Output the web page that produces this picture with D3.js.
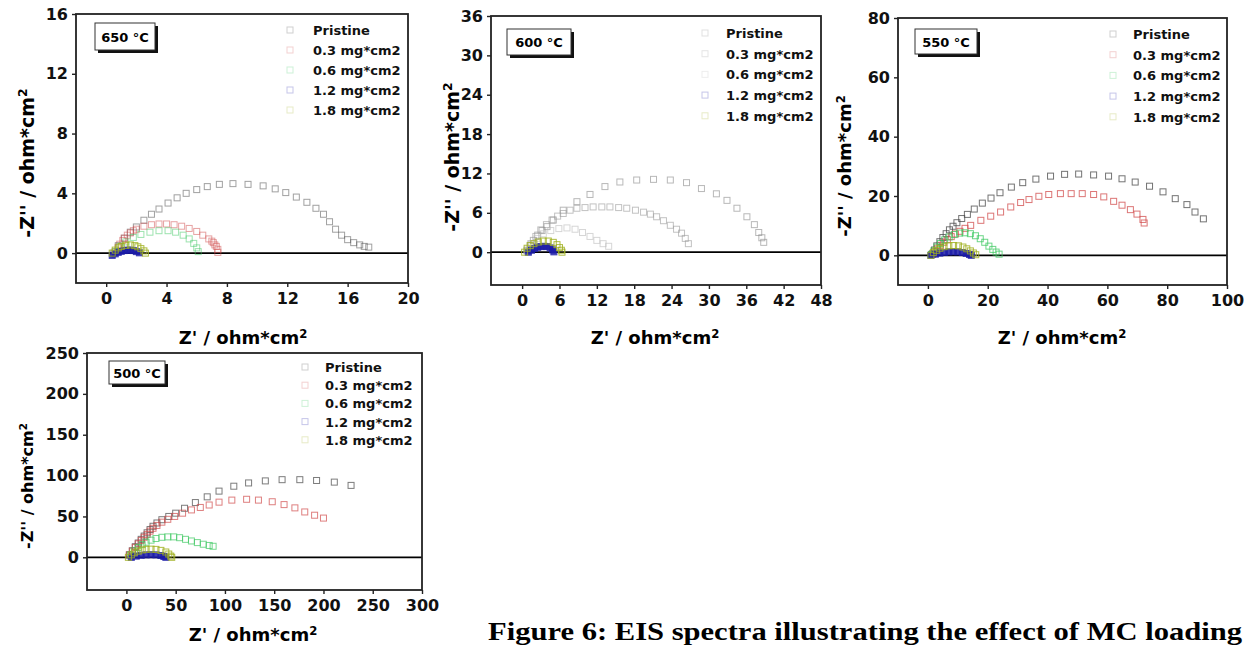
<!DOCTYPE html>
<html>
<head>
<meta charset="utf-8">
<script src="https://cdn.jsdelivr.net/npm/d3@7"></script>
<style>
  body { margin: 0; background: #fff; }
  text { font-family: "DejaVu Sans", Arial, sans-serif; font-weight: bold; }
</style>
</head>
<body>
<svg id="chart" width="1249" height="647"></svg>
<script>
// series names (legend)
var seriesNames = ["Pristine", "0.3 mg*cm2", "0.6 mg*cm2", "1.2 mg*cm2", "1.8 mg*cm2"]

// 650 C  [Z', -Z'']
var p650_pristine = [[0.5,0.0],[0.8,0.5],[1.2,1.0],[1.6,1.4],[2.0,1.75],[2.5,2.2],[3.0,2.6],[3.5,2.95],[4.1,3.35],[4.7,3.7],[5.3,4.0],[6.0,4.25],[6.7,4.45],[7.5,4.6],[8.4,4.65],[9.4,4.6],[10.4,4.5],[11.2,4.3],[11.9,4.05],[12.6,3.75],[13.3,3.4],[13.9,3.0],[14.4,2.6],[14.8,2.1],[15.2,1.6],[15.6,1.2],[16.0,0.9],[16.4,0.7],[16.8,0.55],[17.1,0.45],[17.4,0.4]]
var p650_03 = [[0.6,0.1],[0.8,0.4],[0.9,0.6],[1.1,0.85],[1.2,1.0],[1.4,1.2],[1.6,1.35],[1.8,1.5],[2.0,1.6],[2.5,1.8],[3.0,1.9],[3.5,1.95],[4.0,1.95],[4.5,1.9],[5.0,1.8],[5.5,1.65],[6.0,1.45],[6.4,1.2],[6.8,0.95],[7.0,0.8],[7.1,0.7],[7.2,0.55],[7.3,0.45],[7.4,0.25],[7.4,0.05]]
var p650_06 = [[0.6,0.1],[0.9,0.45],[1.3,0.75],[1.8,1.05],[2.3,1.25],[2.9,1.4],[3.5,1.5],[4.1,1.5],[4.6,1.4],[5.1,1.2],[5.5,0.95],[5.8,0.65],[6.0,0.35],[6.1,0.1]]
var p650_12 = [[0.4,-0.15],[0.6,-0.05],[0.8,0.05],[1.0,0.12],[1.2,0.17],[1.4,0.2],[1.6,0.2],[1.8,0.17],[2.0,0.1],[2.2,0.02]]
var p650_18 = [[0.4,0.0],[0.6,0.2],[0.8,0.35],[1.0,0.45],[1.3,0.52],[1.6,0.55],[1.9,0.5],[2.1,0.42],[2.3,0.3],[2.5,0.15],[2.6,0.0]]

// 600 C
var p600_pristine = [[0.8,0.2],[1.3,1.0],[1.8,1.8],[2.5,2.6],[3.2,3.3],[4.0,3.9],[5.0,4.9],[6.6,6.4],[8.8,7.7],[10.9,8.8],[13.3,10.0],[15.7,10.7],[18.4,11.0],[21.1,11.1],[23.8,11.0],[26.4,10.6],[28.8,9.7],[31.2,8.9],[32.9,7.9],[34.5,6.7],[36.1,5.4],[37.3,4.2],[38.0,3.0],[38.5,2.2],[38.8,1.5]]
var p600_03 = [[0.8,0.3],[1.4,1.3],[2.2,2.4],[3.0,3.4],[3.9,4.2],[4.8,4.9],[5.7,5.5],[6.6,5.9],[7.7,6.4],[8.8,6.7],[10.1,6.8],[11.4,6.9],[12.8,6.9],[14.1,6.9],[15.5,6.8],[16.8,6.7],[18.2,6.4],[19.5,6.1],[20.6,5.8],[21.6,5.4],[22.7,4.8],[23.8,4.1],[24.8,3.5],[25.6,2.9],[26.2,2.1],[26.7,1.3]]
var p600_06 = [[0.8,0.3],[1.5,1.2],[2.4,2.1],[3.4,2.8],[4.6,3.3],[5.9,3.6],[7.2,3.7],[8.5,3.5],[9.7,3.0],[10.9,2.4],[12.0,1.8],[13.0,1.3],[13.9,0.9]]
var p600_12 = [[1.0,0.0],[1.5,0.3],[2.0,0.55],[2.5,0.75],[3.0,0.85],[3.5,0.9],[4.0,0.85],[4.5,0.65],[4.9,0.35],[5.1,0.05]]
var p600_18 = [[0.4,0.0],[0.8,0.6],[1.3,1.0],[1.9,1.3],[2.6,1.55],[3.4,1.7],[4.2,1.7],[5.0,1.5],[5.6,1.15],[6.0,0.7],[6.3,0.3],[6.4,0.0]]

// 550 C
var p550_pristine = [[1.5,0.5],[2.2,1.8],[3.0,3.2],[4.0,4.6],[5.0,6.0],[6.1,7.3],[7.2,8.6],[8.4,9.8],[9.7,11.0],[11.3,12.4],[13.2,13.8],[15.5,15.6],[18.2,17.6],[21.1,19.3],[24.1,21.1],[27.9,23.0],[31.7,24.5],[36.1,25.7],[41.0,26.7],[45.7,27.3],[50.4,27.4],[55.4,27.1],[60.4,26.7],[64.9,25.8],[69.3,24.7],[74.1,23.3],[78.6,21.4],[82.7,19.1],[86.6,17.1],[89.3,14.6],[92.1,12.3]]
var p550_03 = [[1.5,0.3],[2.3,1.3],[3.2,2.4],[4.2,3.4],[5.3,4.4],[6.5,5.3],[7.8,6.3],[9.2,7.2],[10.7,8.1],[12.4,9.1],[14.3,10.1],[17.7,11.8],[21.0,13.2],[24.3,14.6],[27.7,16.3],[31.0,17.8],[33.8,18.8],[37.1,19.9],[40.4,20.5],[44.3,20.8],[47.9,20.8],[51.6,20.8],[55.4,20.5],[58.8,19.7],[62.1,18.2],[64.9,16.9],[67.7,15.4],[69.9,13.9],[71.9,12.1],[72.3,10.9]]
var p550_06 = [[1.2,0.3],[2.0,1.5],[3.0,2.8],[4.2,4.0],[5.6,5.2],[7.1,6.2],[8.8,7.0],[10.6,7.5],[12.4,7.6],[14.2,7.3],[15.9,6.6],[17.5,5.6],[19.0,4.4],[20.4,3.1],[21.7,2.0],[22.8,1.1],[23.8,0.4]]
var p550_12 = [[1.0,0.0],[2.5,0.4],[4.0,0.75],[5.5,1.0],[7.0,1.15],[8.5,1.2],[10.0,1.15],[11.5,0.95],[12.8,0.65],[13.9,0.3],[14.5,0.0]]
var p550_18 = [[1.0,0.0],[1.8,0.9],[2.8,1.7],[4.0,2.4],[5.4,2.9],[7.0,3.2],[8.6,3.3],[10.2,3.2],[11.7,2.8],[13.0,2.2],[14.2,1.5],[15.2,0.8],[16.0,0.2]]

// 500 C
var p500_pristine = [[3,3],[6,8],[9,13],[12,17.5],[15,22],[18,26],[21,30],[24,34],[27,38],[31,42],[36,46],[43,50],[50,54],[59,60],[70,67],[82,74],[94,81],[109,87],[124,91],[141,93.5],[158,95],[176,95],[193,94],[211,92],[228,88]]
var p500_03 = [[3,3],[6,7.5],[9,12],[12,16.5],[15,20.5],[18,24.5],[21,28],[24,32],[27,35.5],[31,39],[36,43],[42,46.5],[49,50],[57,54],[66,58],[75,61],[84,64],[94,67.5],[107,70],[122,71],[134,70],[148,68],[160,64.5],[171,60.5],[181,55.5],[191,51.5],[200,48]]
var p500_06 = [[4,3],[8,8],[12,12],[16,15.5],[20,18.5],[25,21],[30,23],[36,24.5],[42,25],[48,25],[54,24],[60,22],[66,20],[72,18],[78,16],[84,14.5],[88,13.5]]
var p500_12 = [[5,0],[10,1.5],[15,2.5],[20,3],[25,3.2],[30,3],[35,2.2],[38,1],[40,0]]
var p500_18 = [[2,0],[5,3],[8,5.5],[12,7.5],[16,9],[20,9.8],[25,10],[30,9.7],[35,8.5],[40,6.5],[43,4],[45,1.5],[46,0]]

// tick labels
var xTicks650 = [0,4,8,12,16,20], yTicks650 = [0,4,8,12,16]
var xTicks600 = [0,6,12,18,24,30,36,42,48], yTicks600 = [0,6,12,18,24,30,36]
var xTicks550 = [0,20,40,60,80,100], yTicks550 = [0,20,40,60,80]
var xTicks500 = [0,50,100,150,200,250,300], yTicks500 = [0,50,100,150,200,250]

var colors = ["#444", "#d04848", "#3cc860", "#1c1ca8", "#a0b020"]
var colors600 = ["#888", "#999", "#bbb", "#1c1ca8", "#a0b020"]

var panels = [
  {temp: "650 °C", series: [p650_pristine, p650_03, p650_06, p650_12, p650_18], xd: [-2,20], yd: [-2,16],
   xt: xTicks650, yt: yTicks650, l: 76, r: 408, t: 14, b: 283, col: colors, op: 0.5,
   box: [95, 23, 60, 27], leg: [290, 313, 30, 20], ylab: [27, 163, 19], xlab: [243, 344]},
  {temp: "600 °C", series: [p600_pristine, p600_03, p600_06, p600_12, p600_18], xd: [-5,48], yd: [-5,36],
   xt: xTicks600, yt: yTicks600, l: 491, r: 821, t: 16, b: 285, col: colors600, op: 0.6,
   box: [507, 29, 64, 26], leg: [705, 726, 33, 20.7], ylab: [452, 157, 19], xlab: [655, 344]},
  {temp: "550 °C", series: [p550_pristine, p550_03, p550_06, p550_12, p550_18], xd: [-10,100], yd: [-10,80],
   xt: xTicks550, yt: yTicks550, l: 898, r: 1227, t: 18, b: 285, col: colors, op: 0.75,
   box: [915, 29, 62, 25], leg: [1113, 1133, 34, 20.7], ylab: [845, 166, 18], xlab: [1062, 344]},
  {temp: "500 °C", series: [p500_pristine, p500_03, p500_06, p500_12, p500_18], xd: [-40,300], yd: [-40,250],
   xt: xTicks500, yt: yTicks500, l: 87, r: 422, t: 353, b: 590, col: colors, op: 0.7,
   box: [109, 361, 56, 23], leg: [305, 325, 367, 18.2], ylab: [27, 486, 16], xlab: [253, 641]}
]

var svg = d3.select("#chart")

panels.forEach(function(p){
  var x = d3.scaleLinear().domain(p.xd).range([p.l, p.r])
  var y = d3.scaleLinear().domain(p.yd).range([p.b, p.t])
  var g = svg.append("g")

  // zero line
  g.append("line")
    .attr("x1", p.l).attr("x2", p.r)
    .attr("y1", y(0)).attr("y2", y(0))
    .attr("stroke", "#000").attr("stroke-width", 1.8)

  // markers
  p.series.forEach(function(s, i){
    var c = p.col[i]
    g.append("g").selectAll("rect")
      .data(s)
      .enter().append("rect")
      .attr("x", d => x(d[0]) - 3)
      .attr("y", d => y(d[1]) - 3)
      .attr("width", 6)
      .attr("height", 6)
      .attr("fill", i == 3 ? c : "none")
      .attr("stroke", c)
      .attr("stroke-width", 1)
      .attr("opacity", i >= 3 ? 0.85 : p.op)
  })

  // frame
  g.append("rect")
    .attr("x", p.l).attr("y", p.t)
    .attr("width", p.r - p.l).attr("height", p.b - p.t)
    .attr("fill", "none").attr("stroke", "#222").attr("stroke-width", 1.8)

  var xAxis = g.append("g")
    .attr("transform", `translate(0,${p.b})`)
    .call(d3.axisBottom(x).tickValues(p.xt).tickSize(4).tickSizeOuter(0).tickPadding(6))
  var yAxis = g.append("g")
    .attr("transform", `translate(${p.l},0)`)
    .call(d3.axisLeft(y).tickValues(p.yt).tickSize(4).tickSizeOuter(0).tickPadding(4))
  ;[xAxis, yAxis].forEach(function(a){
    a.select(".domain").remove()
    a.selectAll("line").attr("stroke", "#222").attr("stroke-width", 1.4)
    a.selectAll("text")
      .attr("fill", "#111")
      .style("font-family", "'DejaVu Sans', Arial, sans-serif")
      .style("font-size", "16px")
      .style("font-weight", "bold")
  })

  // temperature label box with shadow
  g.append("rect")
    .attr("x", p.box[0] + 3).attr("y", p.box[1] + 3)
    .attr("width", p.box[2]).attr("height", p.box[3])
    .attr("fill", "#111")
  g.append("rect")
    .attr("x", p.box[0]).attr("y", p.box[1])
    .attr("width", p.box[2]).attr("height", p.box[3])
    .attr("fill", "#fff").attr("stroke", "#333").attr("stroke-width", 1)
  g.append("text")
    .attr("x", p.box[0] + p.box[2] / 2).attr("y", p.box[1] + p.box[3] / 2 + 5)
    .attr("text-anchor", "middle")
    .style("font-size", "13px")
    .text(p.temp)

  // legend
  seriesNames.forEach(function(n, i){
    var ly = p.leg[2] + i * p.leg[3]
    g.append("rect")
      .attr("x", p.leg[0] - 3).attr("y", ly - 3)
      .attr("width", 6).attr("height", 6)
      .attr("fill", "none").attr("stroke", p.col[i])
      .attr("opacity", 0.25)
    g.append("text")
      .attr("x", p.leg[1]).attr("y", ly + 5)
      .style("font-size", "13px")
      .attr("fill", "#111")
      .text(n)
  })

  // axis labels
  var yl = g.append("text")
    .attr("transform", `translate(${p.ylab[0]},${p.ylab[1]}) rotate(-90)`)
    .attr("text-anchor", "middle")
    .attr("dy", "0.35em")
    .style("font-size", p.ylab[2] + "px")
  yl.append("tspan").text("-Z'' / ohm*cm")
  yl.append("tspan").attr("dy", "-0.5em").style("font-size", "0.65em").text("2")

  var xl = g.append("text")
    .attr("x", p.xlab[0]).attr("y", p.xlab[1])
    .attr("text-anchor", "middle")
    .style("font-size", "18px")
  xl.append("tspan").text("Z' / ohm*cm")
  xl.append("tspan").attr("dy", "-0.5em").style("font-size", "0.65em").text("2")
})

// caption
svg.append("text")
  .attr("x", 488).attr("y", 640)
  .attr("textLength", 754)
  .attr("lengthAdjust", "spacingAndGlyphs")
  .style("font-family", "'Liberation Serif', 'Times New Roman', serif")
  .style("font-size", "26px").style("font-weight", "bold")
  .text("Figure 6: EIS spectra illustrating the effect of MC loading")
</script>
</body>
</html>
